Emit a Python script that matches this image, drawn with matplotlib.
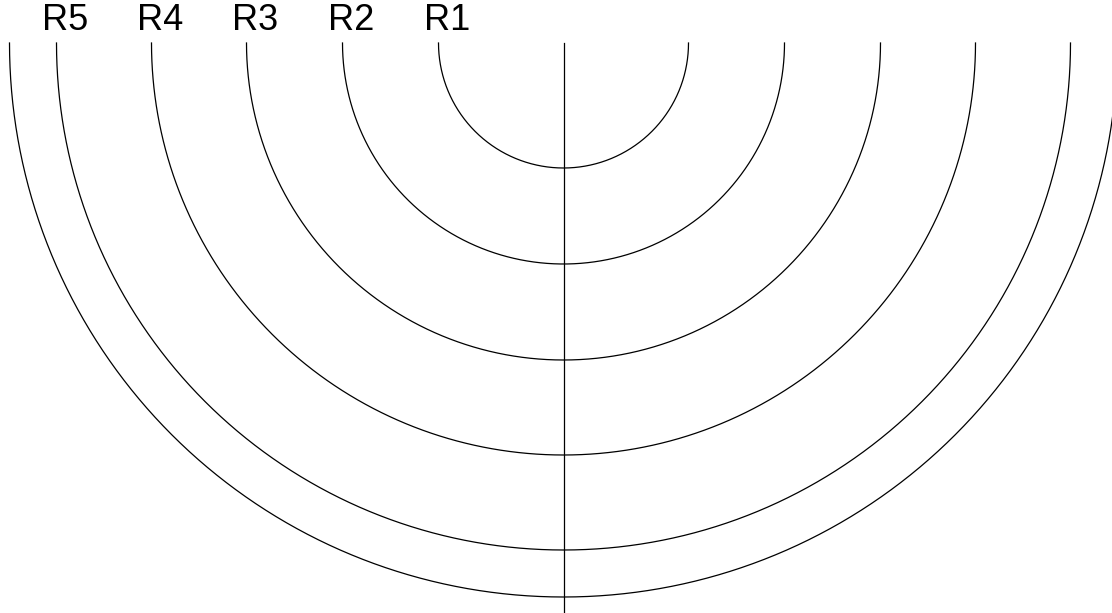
import numpy as np
import matplotlib
matplotlib.use("Agg")
import matplotlib.pyplot as plt

# Data
labels = ["R1", "R2", "R3", "R4", "R5"]
radii = [125, 221, 317, 412, 507]
outer_radius = 554
axis_length = 570

W, H = 1112, 613
cx, cy = 563.5, 43.0  # center in pixel coords (y from top)

fig = plt.figure(figsize=(W / 100, H / 100), dpi=100)
ax = fig.add_axes([0, 0, 1, 1])
ax.set_xlim(-cx, W - cx)
ax.set_ylim(-(H - cy), cy)
ax.set_aspect("equal")
ax.axis("off")

theta = np.linspace(np.pi, 2 * np.pi, 721)
for r in radii + [outer_radius]:
    ax.plot(r * np.cos(theta), r * np.sin(theta), color="black", lw=0.9)

ax.plot([0, 0], [0, -axis_length], color="black", lw=0.9)

for lab, r in zip(labels, radii):
    ax.text(-r + 8.5, cy - 21, lab, ha="center", va="center",
            fontsize=26, family="Liberation Sans", color="black")

fig.savefig("out.png", dpi=100)
